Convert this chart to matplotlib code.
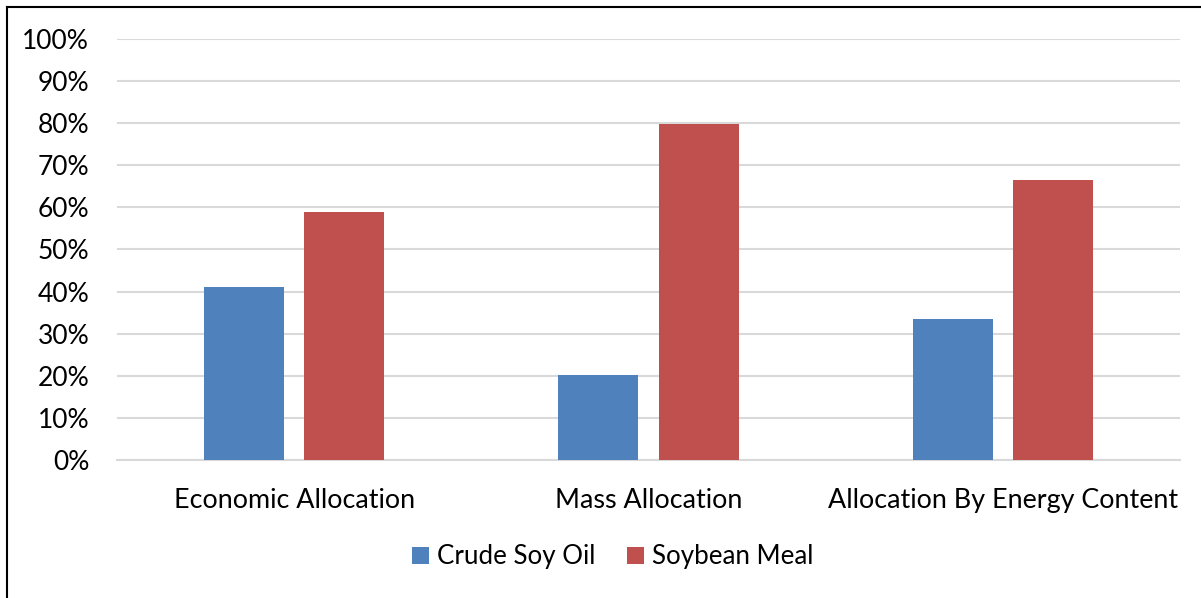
import numpy as np
import matplotlib.pyplot as plt
from matplotlib.lines import Line2D
from matplotlib.ticker import PercentFormatter

# Data
categories = ['Economic Allocation', 'Mass Allocation', 'Allocation By Energy Content']
crude_soy_oil = [41.2, 20.2, 33.4]
soybean_meal = [58.8, 79.8, 66.6]

plt.rcParams['font.family'] = ['Lato', 'DejaVu Sans']

fig = plt.figure(figsize=(12.01, 5.98), dpi=100)
ax = fig.add_axes([0.0974, 0.2308, 0.8851, 0.704])

x = np.arange(len(categories))
width = 0.226
offset = 0.1415
ax.bar(x - offset, crude_soy_oil, width, color='#4F81BD', label='Crude Soy Oil', zorder=3)
ax.bar(x + offset, soybean_meal, width, color='#C0504D', label='Soybean Meal', zorder=3)

ax.set_xlim(-0.5, len(categories) - 0.5)
ax.set_ylim(0, 100)
ax.set_yticks(np.arange(0, 101, 10))
ax.yaxis.set_major_formatter(PercentFormatter(decimals=0))
ax.set_xticks(x)
ax.set_xticklabels(categories)

ax.grid(axis='y', color='#D9D9D9', linewidth=1.5, zorder=0)
for s in ['top', 'right', 'left']:
    ax.spines[s].set_visible(False)
ax.spines['bottom'].set_color('#D9D9D9')
ax.spines['bottom'].set_linewidth(1.5)
ax.tick_params(axis='y', length=0, labelsize=19, pad=20, colors='black')
ax.tick_params(axis='x', length=0, labelsize=19.4, pad=20, colors='black')

ax.legend(loc='center', bbox_to_anchor=(0.51, 0.0686), bbox_transform=fig.transFigure,
          ncol=2, frameon=False, fontsize=18.6, handlelength=0.68, handleheight=0.68,
          handletextpad=0.3, columnspacing=1.2)

# chart frame (left and top edges visible)
fig.add_artist(Line2D([6.5 / 1201, 6.5 / 1201], [0, 1 - 7 / 598], color='black', linewidth=1.5))
fig.add_artist(Line2D([6.5 / 1201, 1], [1 - 7 / 598, 1 - 7 / 598], color='black', linewidth=1.5))

fig.savefig('out.png', dpi=100)
